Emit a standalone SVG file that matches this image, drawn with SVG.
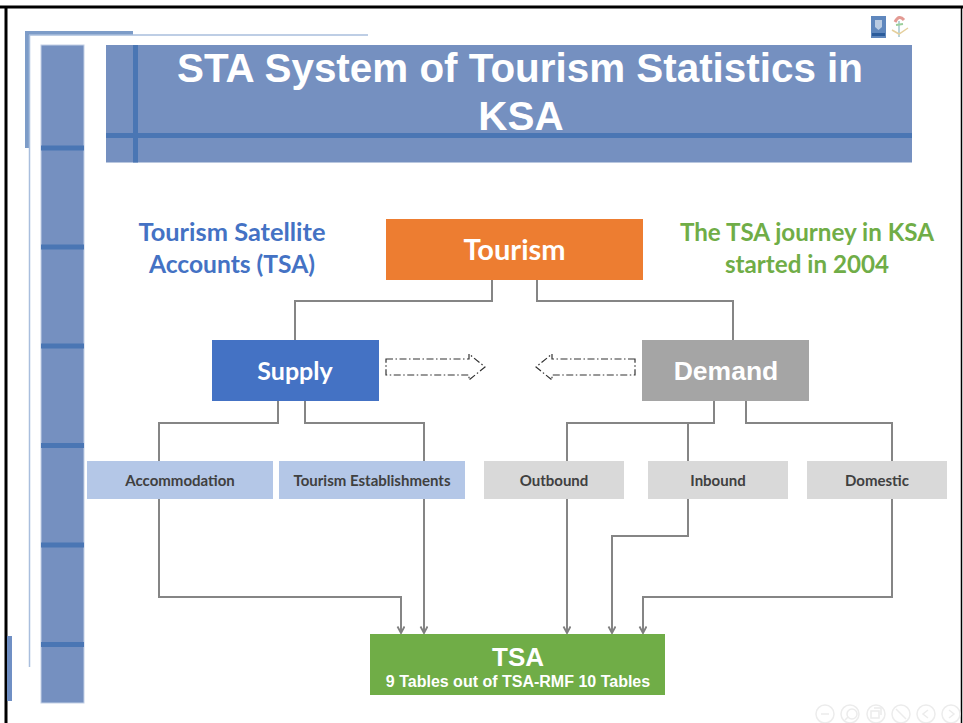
<svg xmlns="http://www.w3.org/2000/svg" width="963" height="723" viewBox="0 0 963 723">
<defs>
<marker id="arr" markerUnits="userSpaceOnUse" markerWidth="10" markerHeight="10" refX="7" refY="4" orient="auto"><path d="M0.5 0.5L7 4L0.5 7.500" fill="none" stroke="#7f7f7f" stroke-width="1.800"/></marker>
</defs>
<style>
.lbl{font-family:"Lato","Liberation Sans",sans-serif;font-weight:700;text-anchor:middle}
.ar{font-family:"Liberation Sans",Arial,sans-serif;font-weight:700;text-anchor:middle;fill:#fff}
.c{fill:none;stroke:#858585;stroke-width:2}
.band{fill:#4a76b4}
.pane{fill:#7590c0;stroke:#c3d0e6;stroke-width:1}
.sub{font-size:15px;fill:#404040}
.dash{fill:none;stroke:#333;stroke-width:1.200;stroke-dasharray:7 2.500 1.500 2.500}
.nav{fill:none;stroke:#ececec;stroke-width:1.500}
</style>
<rect width="963" height="723" fill="#fff"/>
<g id="frame">
<path d="M0 7H963" stroke="#000" stroke-width="3"/>
<path d="M6 6V723" stroke="#000" stroke-width="3"/>
<path d="M961.500 6V723" stroke="#000" stroke-width="1.500"/>
</g>
<g id="decor">
<path d="M25 31H133V35H29V148H25Z" fill="#7d9cc8"/>
<path d="M29 35H368" stroke="#a9bedd" stroke-width="1.500" fill="none"/>
<path d="M29.500 35V667" stroke="#a9bedd" stroke-width="1.500" fill="none"/>
<rect x="7" y="636" width="5" height="65" fill="#6f8fc4"/>
<rect class="pane" x="41" y="45" width="43" height="658"/>
<rect class="band" x="41" y="145.500" width="43" height="5"/>
<rect class="band" x="41" y="244.500" width="43" height="5"/>
<rect class="band" x="41" y="343.500" width="43" height="5"/>
<rect class="band" x="41" y="443" width="43" height="5"/>
<rect class="band" x="41" y="542.500" width="43" height="5"/>
<rect class="band" x="41" y="642" width="43" height="5"/>
</g>
<g id="title">
<rect x="106" y="45" width="806" height="117.500" fill="#7590c0"/>
<rect class="band" x="133" y="45" width="5" height="117.500"/>
<rect class="band" x="106" y="133" width="806" height="5"/>
<text class="ar" font-size="40.400" x="520" y="82">STA System of Tourism Statistics in</text>
<text class="ar" font-size="40.400" x="521" y="130">KSA</text>
</g>
<g id="logos">
<rect x="871" y="16" width="15" height="22" fill="#5f87bd"/>
<path d="M875 20h7v7l-3.500 3l-3.500-3z" fill="#b9cbe2"/>
<rect x="872" y="33" width="13" height="3" fill="#2b5c9b"/>
<path d="M899 21V37" stroke="#b9d4da" stroke-width="2"/>
<path d="M892 30L899 34L908 28" fill="none" stroke="#e5cf9c" stroke-width="1.500"/>
<path d="M895 22Q899 14 904 20" fill="none" stroke="#e39a93" stroke-width="3"/>
<path d="M896 25L903 24" stroke="#9bcf9b" stroke-width="2"/>
</g>
<g id="connectors">
<path class="c" d="M492 280V301H295V340"/>
<path class="c" d="M537 280V301H733V340"/>
<path class="c" d="M278 401V423H159V461"/>
<path class="c" d="M305 401V423H424V461"/>
<path class="c" d="M714 401V423H567V461"/>
<path class="c" d="M688 423V461"/>
<path class="c" d="M746 401V423H892V461"/>
<path class="c" d="M159 499V597H401V633" marker-end="url(#arr)"/>
<path class="c" d="M424 499V633" marker-end="url(#arr)"/>
<path class="c" d="M567 499V633" marker-end="url(#arr)"/>
<path class="c" d="M688 499V536H612V633" marker-end="url(#arr)"/>
<path class="c" d="M892 499V597H643V633" marker-end="url(#arr)"/>
<path class="dash" d="M386 359H469V354L485 367L469 380V375H386Z"/>
<path class="dash" d="M635 359H552V354L536 367L552 380V375H635Z"/>
</g>
<g id="tourism"><rect x="386" y="219" width="257" height="61" fill="#ed7d31"/><text class="lbl" font-size="29" fill="#fff" x="514.500" y="260">Tourism</text></g>
<g id="supply"><rect x="212" y="340" width="167" height="61" fill="#4472c4"/><text class="lbl" font-size="25" fill="#fff" x="295" y="380">Supply</text></g>
<g id="demand"><rect x="642" y="340" width="167" height="61" fill="#a5a5a5"/><text class="ar" font-size="26.500" x="726" y="380">Demand</text></g>
<g id="tsa-note"><text class="lbl" font-size="25.400" fill="#4472c4" x="232" y="241">Tourism Satellite</text><text class="lbl" font-size="24.600" fill="#4472c4" x="232" y="273">Accounts (TSA)</text></g>
<g id="journey-note"><text class="lbl" font-size="24.200" fill="#70ad47" x="807" y="241">The TSA journey in KSA</text><text class="lbl" font-size="24.200" fill="#70ad47" x="807" y="273">started in 2004</text></g>
<g id="accommodation"><rect x="87" y="461" width="186" height="38" fill="#b4c7e7"/><text class="lbl sub" x="180" y="486">Accommodation</text></g>
<g id="establishments"><rect x="279" y="461" width="186" height="38" fill="#b4c7e7"/><text class="lbl sub" x="372" y="486">Tourism Establishments</text></g>
<g id="outbound"><rect x="484" y="461" width="140" height="38" fill="#d9d9d9"/><text class="lbl sub" x="554" y="486">Outbound</text></g>
<g id="inbound"><rect x="648" y="461" width="140" height="38" fill="#d9d9d9"/><text class="lbl sub" x="718" y="486">Inbound</text></g>
<g id="domestic"><rect x="807" y="461" width="140" height="38" fill="#d9d9d9"/><text class="lbl sub" x="877" y="486">Domestic</text></g>
<g id="tsa"><rect x="370" y="634" width="295" height="61" fill="#70ad47"/><text class="ar" font-size="26" x="518" y="666">TSA</text><text class="ar" font-size="16" x="518" y="687">9 Tables out of TSA-RMF 10 Tables</text></g>
<g id="nav">
<circle class="nav" cx="825" cy="714" r="9"/><circle class="nav" cx="850" cy="714" r="9"/><circle class="nav" cx="876" cy="714" r="9"/><circle class="nav" cx="901" cy="714" r="9"/><circle class="nav" cx="926" cy="714" r="9"/><circle class="nav" cx="951" cy="714" r="9"/>
<path class="nav" d="M821 714h8M848 717l-3 3M857 714a5 5 0 1 1-10 0a5 5 0 1 1 10 0M871 711h8v7h-8zM874 708h7v7M896 709l10 10M928 710l-5 4l5 4M949 710l5 4l-5 4"/>
</g>
</svg>
